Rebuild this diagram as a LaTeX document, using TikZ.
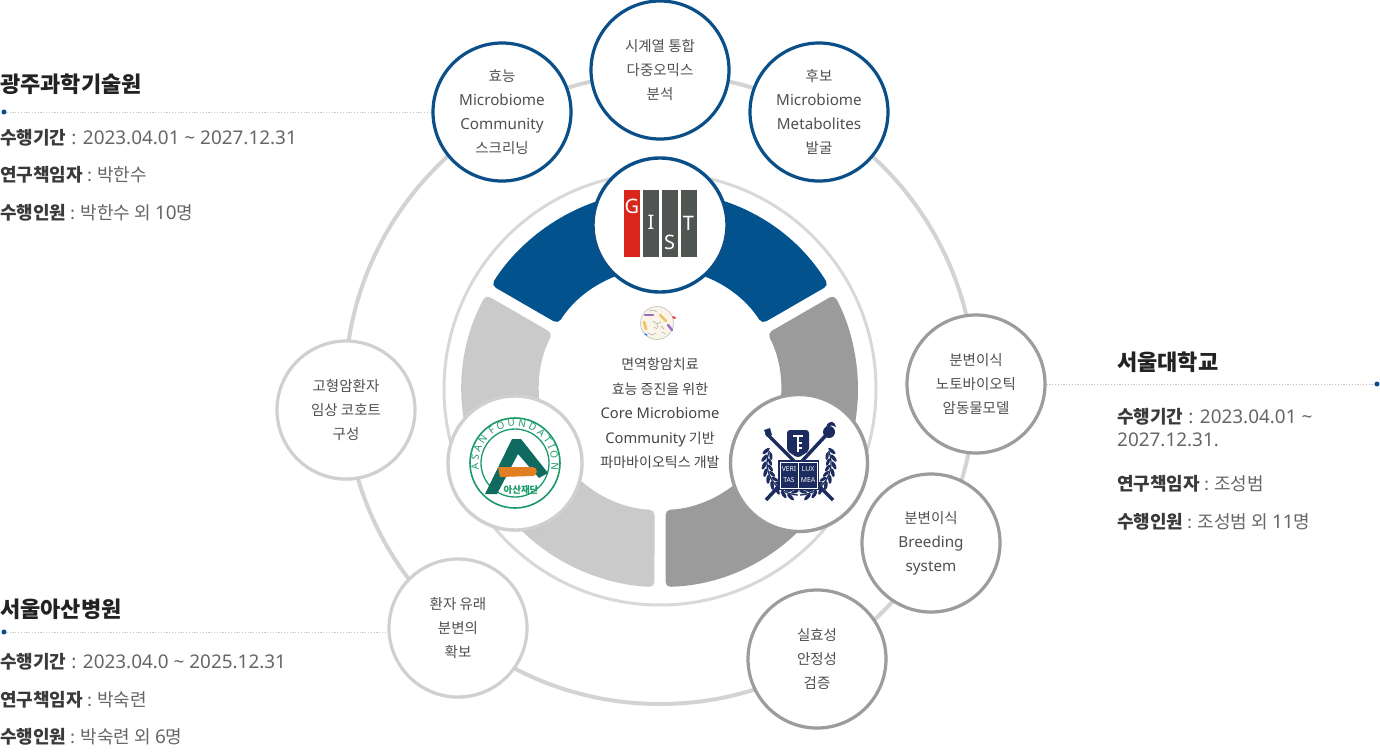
\documentclass[tikz,border=0pt]{standalone}
\usepackage{fontspec}
\setmainfont{Noto Sans CJK KR}
\newfontfamily\lat[Scale=1.05]{Noto Sans}
\usetikzlibrary{shadows,decorations.text,calc}
\definecolor{gblue}{HTML}{02528D}
\definecolor{cblue}{HTML}{0B4F89}
\definecolor{lgray}{HTML}{CACACA}
\definecolor{dgray}{HTML}{9B9B9B}
\definecolor{ringc}{HTML}{D3D3D3}
\definecolor{thinc}{HTML}{D8D8D8}
\definecolor{cborder}{HTML}{D0D0D0}
\definecolor{dborder}{HTML}{9C9C9C}
\definecolor{txt}{HTML}{505050}
\definecolor{ctxt}{HTML}{444444}
\definecolor{head}{HTML}{222222}
\definecolor{labc}{HTML}{3A3A3A}
\definecolor{valc}{HTML}{666666}
\definecolor{asang}{HTML}{1A9A68}
\definecolor{asant}{HTML}{0F6B5F}
\definecolor{asano}{HTML}{E27F22}
\definecolor{snun}{HTML}{1D2C5E}
\definecolor{gistr}{HTML}{D8261C}
\definecolor{gistg}{HTML}{4F5651}
\definecolor{dotc}{HTML}{C6C6C6}
\definecolor{icobg}{HTML}{FBF4E8}
\definecolor{icobd}{HTML}{C9C9C9}
\definecolor{icop}{HTML}{9A6CC6}
\definecolor{icoy}{HTML}{EEC469}
\definecolor{icor}{HTML}{E0453A}
\newcommand\lbl[1]{{\bfseries\color{labc}#1}}
\newcommand\val[1]{{\lat #1}}
\newcommand\asanf{\lat\bfseries\fontsize{9.5}{10}\selectfont}
\newcommand\seg[3]{\fill[#3, rounded corners=5pt] ({#1+1.6}:198) arc[start angle={#1+1.6}, end angle={#2-1.6}, radius=198] -- ({#2-2.6}:121) arc[start angle={#2-2.6}, end angle={#1+2.6}, radius=121] -- cycle;}
\begin{document}
\begin{tikzpicture}[x=1pt, y=-1pt,
  ocirc/.style={circle, fill=white, minimum size=138, inner sep=0, align=center,
    font=\fontsize{14.5}{24}\selectfont, text=txt, line width=3.2,
    drop shadow={opacity=0.12, shadow xshift=0pt, shadow yshift=-2pt}},
  bcirc/.style={ocirc, draw=cblue},
  lcirc/.style={ocirc, draw=cborder},
  dcirc/.style={ocirc, draw=dborder},
  logo/.style={circle, fill=white, minimum size=134, inner sep=0, line width=3.4,
    drop shadow={opacity=0.12, shadow xshift=0pt, shadow yshift=-2pt}},
  heading/.style={anchor=west, inner sep=0, font=\fontsize{22}{24}\selectfont\bfseries, text=head},
  info/.style={anchor=west, inner sep=0, font=\fontsize{18}{23}\selectfont, text=valc},
  dotline/.style={dotc, line width=0.9, dash pattern=on 1.2pt off 1.6pt},
  bdot/.style={circle, fill=cblue, inner sep=0, minimum size=5},
  gl/.style={text=white, inner sep=0, font=\lat\fontsize{19}{19}\selectfont},
  bk/.style={text=white, inner sep=0, font=\lat\bfseries\fontsize{6.5}{7}\selectfont}
]
\useasboundingbox (0,0) rectangle (1380,752);
\coordinate (C) at (660,389);
% rings
\draw[ringc, line width=4] (C) circle[radius=315];
\draw[thinc, line width=3] (C) circle[radius=216];
% segments
\begin{scope}[shift={(660,389)}, y=1pt]
  \seg{30}{150}{gblue}
  \seg{150}{270}{lgray}
  \seg{270}{390}{dgray}
\end{scope}
% center icon
\node[circle, fill=icobg, draw=icobd, line width=0.8, minimum size=33, inner sep=0] (ico) at (657,323) {};
\begin{scope}[shift={(657,323)}, line cap=round]
  \draw[icop, line width=2.6] (-12,-8) -- (-4,-8);
  \draw[icoy, line width=2.8] (-13,-1) -- (-11,6);
  \draw[icoy, line width=2.6] (3,-8) -- (9,-2);
  \draw[icop, line width=2.4] (11,2) -- (15,7);
  \draw[icor, line width=2] (16,-6) -- (18,-5);
  \draw[gray!70, line width=0.5] (-4,-2) -- (0,1) -- (4,-1) (0,1) -- (1,5) (-3,4) -- (0,6) (4,3) -- (7,6) (-8,-12) -- (-4,-13) -- (0,-11);
  \draw[gray!60, line width=0.5] (-9,10) -- (-5,12) -- (-1,10) (5,9) -- (9,11);
  \draw[blue!50!cyan, line width=1.2] (-12,11) -- (-10,12);
\end{scope}
% center text
\node[align=center, font=\fontsize{14}{24.5}\selectfont, text=ctxt] (ctext) at (660,413.5)
  {면역항암치료\\효능 증진을 위한\\{\lat Core Microbiome}\\{\lat Community} 기반\\파마바이오틱스 개발};
% logo circles
\node[logo, draw=cblue] (gist) at (660,225) {};
\node[logo, draw=cborder] (asan) at (515,463) {};
\node[logo, draw=dborder, minimum size=137] (snu) at (799,463) {};
% GIST logo
\fill[gistr] (624,190) rectangle (640,257);
\fill[gistg] (643,190) rectangle (659,257);
\fill[gistg] (662,190) rectangle (678,257);
\fill[gistg] (680.5,190) rectangle (697,257);
\node[gl] (lg) at (632,206) {G};
\node[gl] (li) at (651,222) {I};
\node[gl] (ls) at (669.5,242) {S};
\node[gl] (lt) at (688.5,223) {T};
% Asan logo
\begin{scope}[shift={(515,463)}, y=1pt]
  \draw[asang, line width=1.6] (0,0) circle[radius=45];
  \draw[asang, line width=1.3] (0,0) circle[radius=34];
  \path[decorate, decoration={text along path, text color=asang, text align=center,
     text={|\asanf|A S A N\ \ F O U N D A T I O N}}] (205:36.5) arc[start angle=205, end angle=-25, radius=36.5];
  \fill[asant] (-30,-31) -- (-3,24) -- (6,24) -- (33,-10) -- (24,-15) -- (3,9) -- (-18,-31) -- cycle;
  \fill[asano] (-17,-4) -- (18,-4) .. controls (23,-4) and (23,-13) .. (18,-13) -- (-15,-14) -- cycle;
  \node[text=asang, inner sep=0, font=\fontsize{9.5}{10}\selectfont\bfseries] (asantxt) at (6,-27) {아산재단};
\end{scope}
% SNU logo
\begin{scope}[shift={(799,463)}, y=1pt]
  \draw[snun, line width=3.5] (-33,30) -- (34,-37);
  \draw[snun, line width=3.5] (30,31) -- (-33,-37);
  \fill[snun] (-35,33) -- (-29,35) -- (-27,28) -- (-32,26) -- cycle;
  \fill[snun] (30,31) circle[radius=6];
  \fill[snun] (27,36) .. controls (30,44) and (36,42) .. (37,36) .. controls (35,38) and (32,38) .. (27,36);
  \draw[snun, line width=1.3] (158:32) arc[start angle=158, end angle=268, radius=32];
  \draw[snun, line width=1.3] (-88:32) arc[start angle=-88, end angle=22, radius=32];
  \foreach \a in {160,172,...,256} {
    \fill[snun, shift={(\a:35)}, rotate=\a+60] (0,0) ellipse[x radius=4.5, y radius=1.8];
    \fill[snun, shift={(\a+6:29)}, rotate=\a+120] (0,0) ellipse[x radius=4, y radius=1.6];
  }
  \foreach \a in {-76,-64,...,20} {
    \fill[snun, shift={(\a:35)}, rotate=\a-60] (0,0) ellipse[x radius=4.5, y radius=1.8];
    \fill[snun, shift={(\a-6:29)}, rotate=\a-120] (0,0) ellipse[x radius=4, y radius=1.6];
  }
  \fill[snun] (-21,3) rectangle (20,-27);
  \draw[white, line width=0.7] (-0.5,1) -- (-0.5,-25);
  \draw[white, line width=0.5] (-19,1) rectangle (18,-25);
  \node[bk] (sv) at (-10,-6) {VERI};
  \node[bk] (sl) at (9,-6) {LUX};
  \node[bk] (st) at (-10,-17) {TAS};
  \node[bk] (sm) at (9,-17) {MEA};
  \fill[snun, rounded corners=3pt] (-12,33) -- (10,33) -- (10,12) -- (-1,5) -- (-12,12) -- cycle;
  \draw[white, line width=2] (-6,27) -- (4,27) (-1,27) -- (-1,11) (-1,20) -- (3,20) (-1,15) -- (3,15);
\end{scope}
% outer circles
\node[bcirc] (c1) at (502,112) {효능\\{\lat Microbiome}\\{\lat Community}\\스크리닝};
\node[bcirc] (c2) at (660,70) {시계열 통합\\다중오믹스\\분석};
\node[bcirc] (c3) at (819,112) {후보\\{\lat Microbiome}\\{\lat Metabolites}\\발굴};
\node[lcirc] (c4) at (346,410) {고형암환자\\임상 코호트\\구성};
\node[lcirc] (c5) at (458,628) {환자 유래\\분변의\\확보};
\node[dcirc] (c6) at (976,384) {분변이식\\노토바이오틱\\암동물모델};
\node[dcirc] (c7) at (931,543) {분변이식\\{\lat Breeding}\\{\lat system}};
\node[dcirc] (c8) at (817,659) {실효성\\안정성\\검증};
% dotted leaders
\coordinate (d1) at (4,112);
\coordinate (d2) at (1377,384);
\coordinate (d3) at (4,632);
\draw[dotline] (d1) -- (c1.west);
\draw[dotline] (c6.east) -- (d2);
\draw[dotline] (d3) -- (d3 -| c5.west);
\node[bdot] (b1) at (d1) {};
\node[bdot] (b2) at (d2) {};
\node[bdot] (b3) at (d3) {};
% text blocks
\node[heading] (h1) at (0,84) {광주과학기술원};
\node[info] (i11) at (0,138) {\lbl{수행기간}\val{ : 2023.04.01 \textasciitilde\ 2027.12.31}};
\node[info] (i12) at (0,175) {\lbl{연구책임자} : 박한수};
\node[info] (i13) at (0,213) {\lbl{수행인원} : 박한수 외 \val{10}명};
\node[heading] (h2) at (1117,362) {서울대학교};
\node[info] (i21) at (1117,417) {\lbl{수행기간}\val{ : 2023.04.01 \textasciitilde}};
\node[info] (i22) at (1117,440) {\val{2027.12.31.}};
\node[info] (i23) at (1117,484) {\lbl{연구책임자} : 조성범};
\node[info] (i24) at (1117,522) {\lbl{수행인원} : 조성범 외 \val{11}명};
\node[heading] (h3) at (0,609) {서울아산병원};
\node[info] (i31) at (0,662) {\lbl{수행기간}\val{ : 2023.04.0 \textasciitilde\ 2025.12.31}};
\node[info] (i32) at (0,700) {\lbl{연구책임자} : 박숙련};
\node[info] (i33) at (0,737) {\lbl{수행인원} : 박숙련 외 \val{6}명};
\end{tikzpicture}
\end{document}
